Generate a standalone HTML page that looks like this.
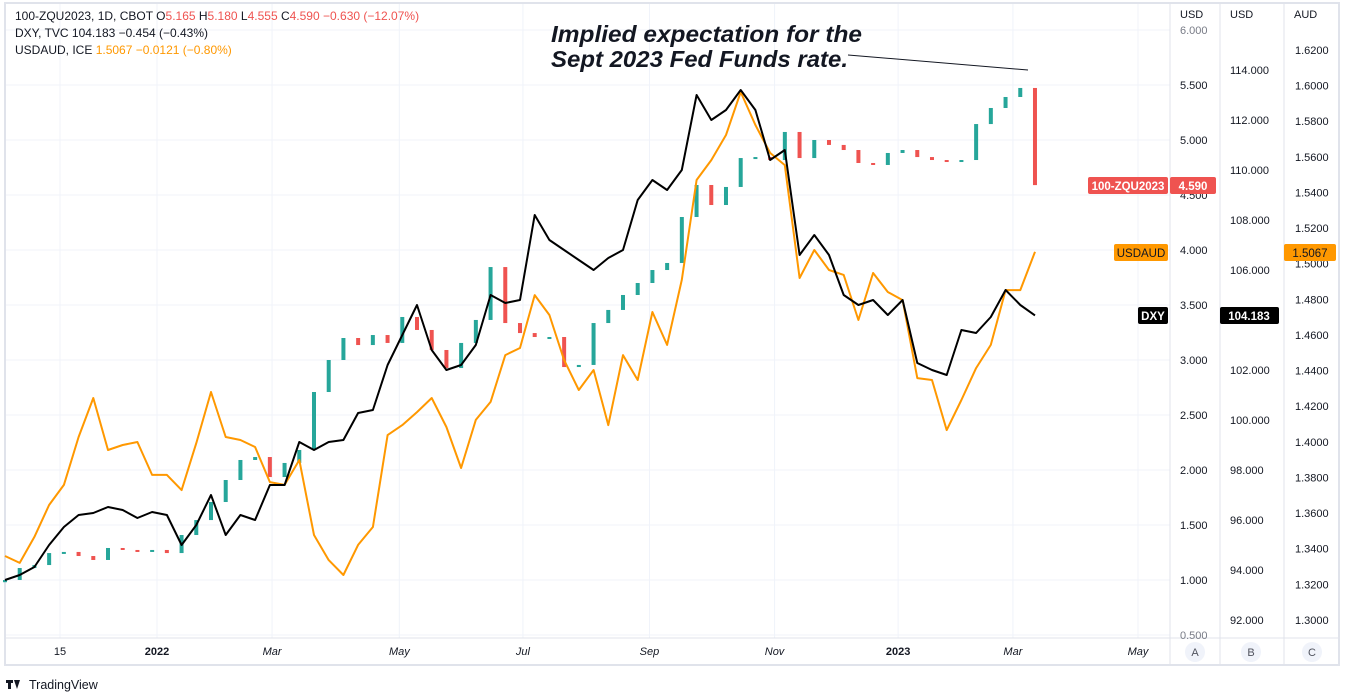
<!DOCTYPE html>
<html><head><meta charset="utf-8"><title>ZQU2023 vs DXY vs USDAUD</title>
<style>
html,body{margin:0;padding:0;background:#fff;}
svg{display:block;font-family:"Liberation Sans",sans-serif;}
</style></head>
<body>
<svg id="chart" width="1349" height="696" viewBox="0 0 1349 696" xmlns="http://www.w3.org/2000/svg">
<rect x="5" y="3" width="1334" height="662" fill="#fff" stroke="#e0e3eb" stroke-width="2"/>
<g id="grid"></g>
<g id="series"></g>
<line x1="1170" y1="3" x2="1170" y2="665" stroke="#e0e3eb"/>
<line x1="1220" y1="3" x2="1220" y2="665" stroke="#e0e3eb"/>
<line x1="1284" y1="3" x2="1284" y2="665" stroke="#e0e3eb"/>
<line x1="5" y1="638" x2="1339" y2="638" stroke="#e0e3eb"/>
<g id="axes" font-size="11" fill="#131722"></g>
<text x="1180" y="18" font-size="11" fill="#131722">USD</text>
<text x="1230" y="18" font-size="11" fill="#131722">USD</text>
<text x="1294" y="18" font-size="11" fill="#131722">AUD</text>
<g font-size="12">
<text x="15" y="20" fill="#131722">100-ZQU2023, 1D, CBOT  O<tspan fill="#ef5350">5.165</tspan>  H<tspan fill="#ef5350">5.180</tspan>  L<tspan fill="#ef5350">4.555</tspan>  C<tspan fill="#ef5350">4.590</tspan>  <tspan fill="#ef5350">−0.630 (−12.07%)</tspan></text>
<text x="15" y="37" fill="#131722">DXY, TVC  104.183  −0.454 (−0.43%)</text>
<text x="15" y="54" fill="#131722">USDAUD, ICE  <tspan fill="#ff9800">1.5067  −0.0121 (−0.80%)</tspan></text>
</g>
<g>
<text x="551" y="42" font-size="23" font-style="italic" font-weight="bold" textLength="311" lengthAdjust="spacingAndGlyphs" fill="#131722">Implied expectation for the</text>
<text x="551" y="67" font-size="23" font-style="italic" font-weight="bold" textLength="297" lengthAdjust="spacingAndGlyphs" fill="#131722">Sept 2023 Fed Funds rate.</text>
<line x1="848" y1="55" x2="1028" y2="70" stroke="#131722" stroke-width="1"/>
</g>
<g font-size="11.5" font-weight="bold">
<rect x="1088" y="177" width="80" height="17" rx="2" fill="#ef5350"/>
<text x="1128" y="190" text-anchor="middle" fill="#fff">100-ZQU2023</text>
<rect x="1170" y="177" width="46" height="17" rx="2" fill="#ef5350"/>
<text x="1193" y="190" text-anchor="middle" fill="#fff">4.590</text>
<rect x="1114" y="244" width="54" height="17" rx="2" fill="#ff9800"/>
<text x="1141" y="257" text-anchor="middle" fill="#131722" font-weight="normal">USDAUD</text>
<rect x="1284" y="244" width="52" height="17" rx="2" fill="#ff9800"/>
<text x="1310" y="257" text-anchor="middle" fill="#131722" font-weight="normal">1.5067</text>
<rect x="1138" y="307" width="30" height="17" rx="2" fill="#000"/>
<text x="1153" y="320" text-anchor="middle" fill="#fff">DXY</text>
<rect x="1220" y="307" width="59" height="17" rx="2" fill="#000"/>
<text x="1249" y="320" text-anchor="middle" fill="#fff">104.183</text>
</g>
<g font-size="11" fill="#50535e">
<circle cx="1195" cy="652" r="10" fill="#f0f3fa"/>
<text x="1195" y="656" text-anchor="middle">A</text>
<circle cx="1251" cy="652" r="10" fill="#f0f3fa"/>
<text x="1251" y="656" text-anchor="middle">B</text>
<circle cx="1312" cy="652" r="10" fill="#f0f3fa"/>
<text x="1312" y="656" text-anchor="middle">C</text>
</g>
<g>
<rect x="6" y="680" width="7" height="3" fill="#131722"/>
<rect x="8" y="680" width="3" height="9" fill="#131722"/>
<path d="M14 680 L20 680 L17 689 Z" fill="#131722"/>
<text x="29" y="689" font-size="12.5" fill="#131722">TradingView</text>
</g>
</svg>
<script>
const dxyValues = [93.6,93.8,94.12,95.0,95.72,96.2,96.28,96.52,96.4,96.08,96.32,96.2,95.0,95.8,97.0,95.4,96.2,96.0,97.4,97.4,99.12,98.8,99.12,99.2,100.28,100.4,102.2,103.4,104.6,102.8,102.0,102.2,103.0,105.0,104.68,104.8,108.2,107.2,106.8,106.4,106.0,106.48,106.8,108.8,109.6,109.2,110.0,113.0,112.0,112.4,113.2,112.4,110.4,110.8,106.6,107.4,106.6,105.0,104.6,104.8,104.2,104.8,102.28,102.0,101.8,103.6,103.48,104.12,105.2,104.6,104.183];
const audValues = [1.3359,1.3320,1.3466,1.3645,1.3758,1.4027,1.4246,1.3954,1.3982,1.3999,1.3814,1.3814,1.3729,1.3993,1.4280,1.4027,1.4010,1.3971,1.3774,1.3758,1.3898,1.3477,1.3336,1.3252,1.3421,1.3522,1.4038,1.4094,1.4167,1.4246,1.4083,1.3853,1.4123,1.4224,1.4487,1.4527,1.4824,1.4712,1.4459,1.4291,1.4403,1.4094,1.4487,1.4347,1.4729,1.4544,1.4909,1.5470,1.5582,1.5723,1.5964,1.5779,1.5622,1.5554,1.4920,1.5077,1.4965,1.4937,1.4684,1.4948,1.4841,1.4796,1.4358,1.4347,1.4066,1.4235,1.4414,1.4544,1.4852,1.4852,1.5067];
const zqCloses = [1.000,1.109,1.136,1.245,1.255,1.218,1.182,1.291,1.273,1.255,1.273,1.245,1.409,1.545,1.709,1.909,2.091,2.118,1.936,2.064,2.182,2.709,3.000,3.200,3.136,3.227,3.155,3.391,3.273,3.091,2.927,3.155,3.364,3.845,3.336,3.245,3.209,3.209,2.936,2.955,3.336,3.455,3.591,3.700,3.818,3.882,4.300,4.591,4.409,4.573,4.836,4.845,4.818,5.073,4.836,5.000,4.955,4.909,4.791,4.773,4.882,4.909,4.845,4.818,4.809,4.818,5.145,5.291,5.391,5.473,4.590];
const zqFirstOpen = 0.98;
const axisATicks = ["6.000","5.500","5.000","4.500","4.000","3.500","3.000","2.500","2.000","1.500","1.000","0.500"];
const axisBTicks = ["114.000","112.000","110.000","108.000","106.000","104.000","102.000","100.000","98.000","96.000","94.000","92.000"];
const axisCTicks = ["1.6200","1.6000","1.5800","1.5600","1.5400","1.5200","1.5000","1.4800","1.4600","1.4400","1.4200","1.4000","1.3800","1.3600","1.3400","1.3200","1.3000"];
const timeLabels = ["15","2022","Mar","May","Jul","Sep","Nov","2023","Mar","May"];
const timeLabelBars = [3.74,10.33,18.15,26.8,35.2,43.8,52.3,60.7,68.5,77.0];
const timeLabelBold = [false,true,false,false,false,false,false,true,false,false];

const NS = "http://www.w3.org/2000/svg";
function xAt(i){ return 5 + i*14.714; }
function yA(v){ return 30 + (6 - v)*110; }
function yB(v){ return 70 + (114 - v)*25; }
function yC(v){ return 50 + (1.62 - v)*1781; }
function mk(tag, attrs, parent){ const e=document.createElementNS(NS,tag); for(const k in attrs) e.setAttribute(k,attrs[k]); parent.appendChild(e); return e; }

const grid=document.getElementById('grid');
const axes=document.getElementById('axes');
const series=document.getElementById('series');

axisATicks.forEach(t=>{
  const y=yA(parseFloat(t));
  const g=mk('line',{x1:6,y1:y,x2:1170,y2:y,stroke:'#f0f3fa'},grid);
  
  
  const tx=mk('text',{x:1180,y:y+4},axes); tx.textContent=t;
  
  
  if(t==="6.000"||t==="0.500") tx.setAttribute('fill','#787b86');
});
axisBTicks.forEach(t=>{
  if(t==="104.000") return;
  const y=yB(parseFloat(t));
  const tx=mk('text',{x:1230,y:y+4},axes); tx.textContent=t;
  
  
});
axisCTicks.forEach(t=>{
  const y=yC(parseFloat(t));
  const tx=mk('text',{x:1295,y:y+4},axes); tx.textContent=t;
  
  
});
timeLabels.forEach((t,i)=>{
  const x=xAt(timeLabelBars[i]);
  const g=mk('line',{x1:x,y1:4,x2:x,y2:638,stroke:'#f0f3fa'},grid);
  
  
  const tx=mk('text',{x:x,y:655,'text-anchor':'middle'},axes); tx.textContent=t;
  
  
  if(timeLabelBold[i]) tx.setAttribute('font-weight','bold'); else if(t!=="15") tx.setAttribute('font-style','italic');
});

zqCloses.forEach((c,i)=>{
  const o = i===0 ? zqFirstOpen : zqCloses[i-1];
  const up = c>=o;
  const y1=yA(Math.max(o,c)), y2=yA(Math.min(o,c));
  const x=xAt(i);
  const r=mk('rect',{x:x-2,y:y1,width:4,height:Math.max(2,y2-y1),fill:up?'#26a69a':'#ef5350'},series);
  
  
});

function line(vals, yf, color, name){
  const d=vals.map((v,i)=>(i?'L':'M')+xAt(i).toFixed(1)+' '+yf(v).toFixed(1)).join(' ');
  const p=mk('path',{d:d,fill:'none',stroke:color,'stroke-width':2,'stroke-linejoin':'round'},series);
  
  
}
line(audValues,yC,'#ff9800','usdaud-line');
line(dxyValues,yB,'#000000','dxy-line');
</script>
</body></html>
